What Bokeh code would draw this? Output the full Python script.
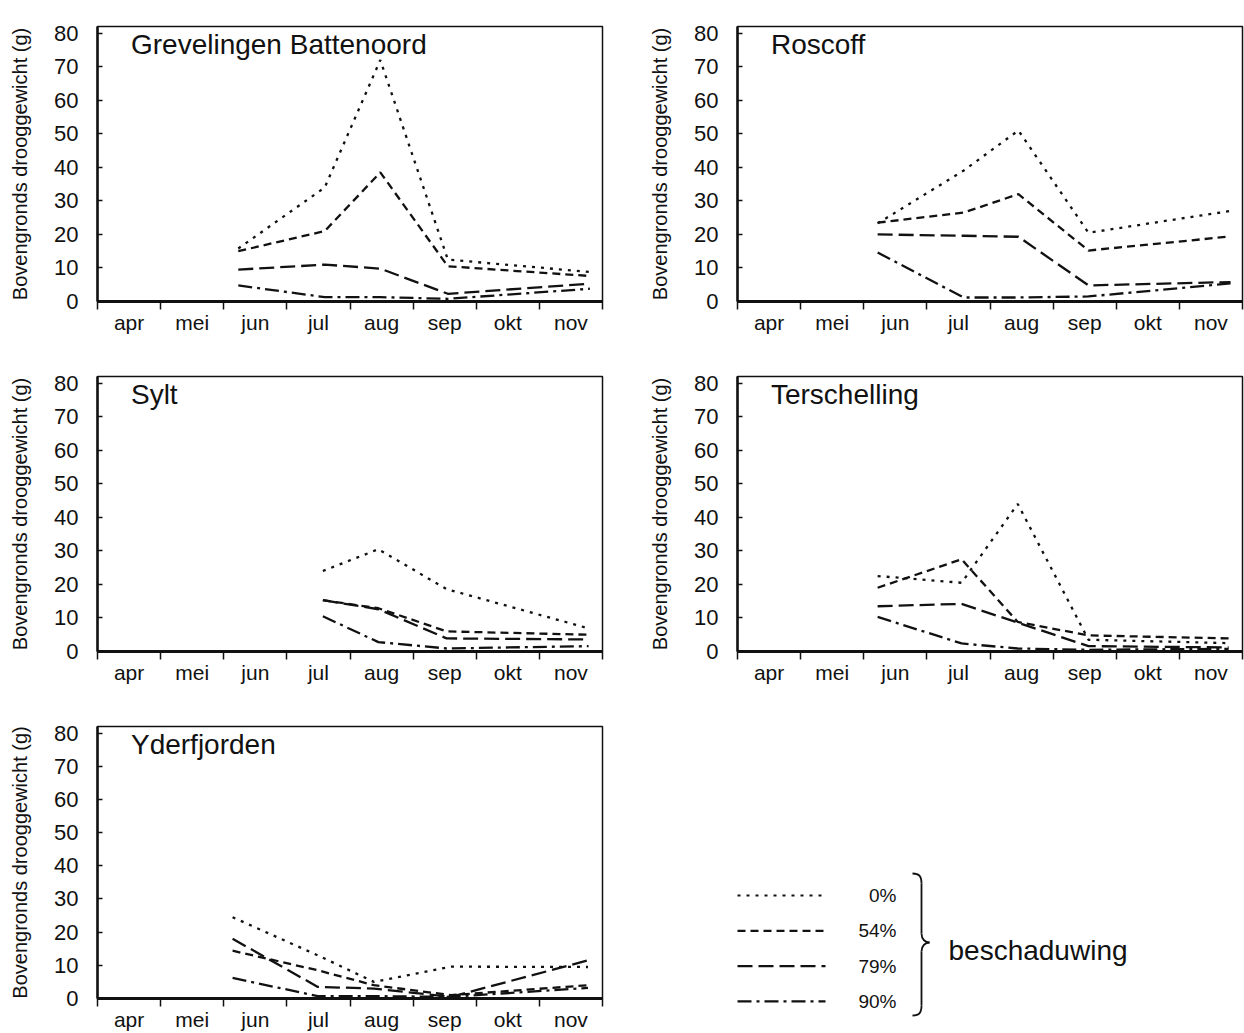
from bokeh.plotting import figure
from bokeh.layouts import column, row
from bokeh.models import Range1d, FixedTicker, CustomJSTickFormatter, Label
from bokeh.embed import file_html
from bokeh.resources import INLINE
from bokeh.core.properties import value

# Month axis: 0 = start of april, each month one unit wide
months = ["apr", "mei", "jun", "jul", "aug", "sep", "okt", "nov"]
shading = ["0%", "54%", "79%", "90%"]
dashes = ["3 6", "8 5", "15 6", "14 5 3 5"]

# Sampling moments (in months from 1 april) and above-ground dry weight (g)
grev_t = [2.23, 3.60, 4.48, 5.55, 7.80]
grev_0 = [15.8, 34.0, 72.0, 12.5, 8.8]
grev_54 = [15.0, 21.0, 38.5, 10.5, 7.6]
grev_79 = [9.5, 11.0, 9.8, 2.3, 5.3]
grev_90 = [4.8, 1.3, 1.3, 0.8, 3.8]

rosc_t = [2.22, 3.58, 4.45, 5.56, 7.81]
rosc_0 = [23.3, 39.0, 51.0, 20.5, 27.0]
rosc_54 = [23.5, 26.5, 32.0, 15.2, 19.4]
rosc_79 = [20.0, 19.6, 19.3, 4.8, 5.8]
rosc_90 = [14.6, 1.2, 1.2, 1.5, 5.4]

sylt_t = [3.57, 4.45, 5.53, 7.78]
sylt_0 = [24.0, 30.5, 18.6, 6.9]
sylt_54 = [15.3, 12.9, 6.0, 5.0]
sylt_79 = [15.3, 12.6, 3.9, 3.6]
sylt_90 = [10.5, 2.8, 0.9, 1.6]

ters_t = [2.22, 3.55, 4.44, 5.56, 7.78]
ters_0 = [22.5, 20.5, 44.0, 3.5, 2.5]
ters_54 = [19.0, 27.5, 8.8, 4.8, 3.9]
ters_79 = [13.5, 14.2, 8.6, 1.6, 1.2]
ters_90 = [10.3, 2.4, 0.9, 0.5, 0.8]

yder_t = [2.14, 3.49, 4.38, 5.60, 7.77]
yder_0 = [24.5, 13.0, 5.0, 9.6, 9.5]
yder_54 = [14.4, 8.5, 4.0, 1.0, 4.0]
yder_79 = [18.0, 3.5, 3.0, 0.5, 11.5]
yder_90 = [6.2, 0.7, 0.7, 0.5, 3.2]

sites = [
    ("Grevelingen Battenoord", grev_t, [grev_0, grev_54, grev_79, grev_90]),
    ("Roscoff", rosc_t, [rosc_0, rosc_54, rosc_79, rosc_90]),
    ("Sylt", sylt_t, [sylt_0, sylt_54, sylt_79, sylt_90]),
    ("Terschelling", ters_t, [ters_0, ters_54, ters_79, ters_90]),
    ("Yderfjorden", yder_t, [yder_0, yder_54, yder_79, yder_90]),
]

FONT = "Liberation Sans"
INK = "#111111"
W = 622


def panel(name, t, series, left, height, bottom):
    p = figure(width=W, height=height, output_backend="svg", toolbar_location=None,
               x_range=Range1d(0, 8), y_range=Range1d(0, 82),
               min_border_left=left, min_border_right=W - left - 505,
               min_border_top=26, min_border_bottom=bottom)
    p.xgrid.visible = False
    p.ygrid.visible = False
    p.outline_line_color = INK
    p.outline_line_width = 1.5
    p.background_fill_color = "white"
    p.border_fill_color = "white"

    xa = p.xaxis[0]
    xa.ticker = FixedTicker(ticks=[i + 0.5 for i in range(len(months))],
                            minor_ticks=list(range(len(months) + 1)))
    xa.formatter = CustomJSTickFormatter(args=dict(months=months),
                                         code="return months[Math.floor(tick)]")
    xa.major_tick_in = 0
    xa.major_tick_out = 0
    xa.minor_tick_in = 0
    xa.minor_tick_out = 8
    xa.minor_tick_line_color = INK
    xa.minor_tick_line_width = 1.5
    xa.axis_line_color = INK
    xa.axis_line_width = 3
    xa.major_label_text_font = FONT
    xa.major_label_text_font_size = "21px"
    xa.major_label_text_color = INK
    xa.major_label_standoff = 1

    ya = p.yaxis[0]
    ya.ticker = FixedTicker(ticks=list(range(0, 81, 10)))
    ya.major_tick_in = 5
    ya.major_tick_out = 0
    ya.minor_tick_in = 0
    ya.minor_tick_out = 0
    ya.major_tick_line_color = INK
    ya.major_tick_line_width = 1.5
    ya.axis_line_color = INK
    ya.axis_line_width = 2.5
    ya.major_label_text_font = FONT
    ya.major_label_text_font_size = "22px"
    ya.major_label_text_color = INK
    ya.major_label_standoff = 19
    ya.axis_label = "Bovengronds drooggewicht (g)"
    ya.axis_label_text_font = FONT
    ya.axis_label_text_font_size = "20px"
    ya.axis_label_text_font_style = "normal"
    ya.axis_label_text_color = INK
    ya.axis_label_standoff = 20

    for vals, dash in zip(series, dashes):
        p.line(t, vals, line_color=INK, line_width=2.3, line_dash=dash)

    p.add_layout(Label(x=0.53, y=76.7, text=name, text_font=FONT, text_font_size="28px",
                       text_color=INK, text_baseline="alphabetic"))
    return p


heights = [350, 350, 333]
bottoms = [49, 49, 32]
figs = []
for i, (name, t, series) in enumerate(sites):
    r = i // 2
    left = 97 if i % 2 == 0 else 115
    figs.append(panel(name, t, series, left, heights[r], bottoms[r]))

# Legend panel: drawing area in pixel-like units (y pointing down)
lg = figure(width=W, height=333, output_backend="svg", toolbar_location=None,
            x_range=Range1d(0, W), y_range=Range1d(333, 0),
            x_axis_location=None, y_axis_location=None,
            min_border_left=0, min_border_right=0, min_border_top=0, min_border_bottom=0)
lg.xgrid.visible = False
lg.ygrid.visible = False
lg.outline_line_color = None

row_y = [195 + 35.3 * i for i in range(len(shading))]
for yy, dash in zip(row_y, dashes):
    lg.segment(x0=[115], y0=[yy], x1=[203], y1=[yy], line_color=INK, line_width=2.2, line_dash=dash)
lg.text(x=[274] * len(shading), y=row_y, text=shading, text_font=value(FONT),
        text_font_size="19px", text_align="right", text_baseline="middle", text_color=INK)

# Curly brace grouping the shading levels
bx, tip_x, top, mid, bot = 299, 307, 173, 242, 315
brace = dict(line_color=INK, line_width=1.8)
lg.bezier(x0=[290], y0=[top], x1=[bx], y1=[top + 10], cx0=[297], cy0=[top], cx1=[bx], cy1=[top + 3], **brace)
lg.segment(x0=[bx], y0=[top + 10], x1=[bx], y1=[mid - 9], **brace)
lg.bezier(x0=[bx], y0=[mid - 9], x1=[tip_x], y1=[mid], cx0=[bx], cy0=[mid - 3], cx1=[tip_x - 4], cy1=[mid], **brace)
lg.bezier(x0=[tip_x], y0=[mid], x1=[bx], y1=[mid + 9], cx0=[tip_x - 4], cy0=[mid], cx1=[bx], cy1=[mid + 3], **brace)
lg.segment(x0=[bx], y0=[mid + 9], x1=[bx], y1=[bot - 10], **brace)
lg.bezier(x0=[bx], y0=[bot - 10], x1=[290], y1=[bot], cx0=[bx], cy0=[bot - 3], cx1=[297], cy1=[bot], **brace)
lg.text(x=[326], y=[250], text=["beschaduwing"], text_font=value(FONT), text_font_size="28px",
        text_align="left", text_baseline="alphabetic", text_color=INK)
figs.append(lg)

# the legend sits in its own column so its frame keeps the full panel height
layout = column(row(figs[0], figs[1]), row(figs[2], figs[3]), row(figs[4], column(figs[5])))

with open("out.html", "w") as f:
    f.write(file_html(layout, INLINE))
